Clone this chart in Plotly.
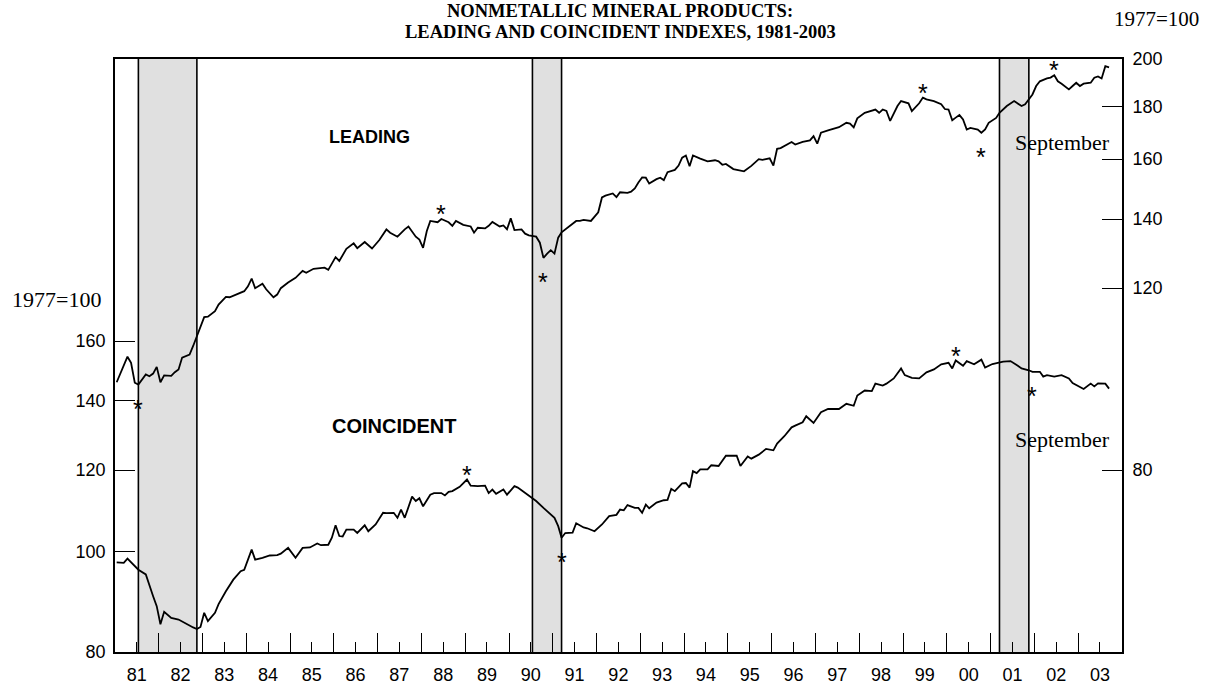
import math
import plotly.graph_objects as go

# ---------------- data ----------------
coin_dates = ["1981-01","1981-03","1981-04","1981-06","1981-07","1981-09","1981-10","1981-11","1981-12",
 "1982-01","1982-02","1982-04","1982-06","1982-08","1982-09","1982-10","1982-11","1982-12",
 "1983-01","1983-02","1983-04","1983-05","1983-07","1983-09","1983-11","1983-12",
 "1984-02","1984-03","1984-05","1984-07","1984-09","1984-10","1984-12",
 "1985-02","1985-04","1985-06","1985-08","1985-09","1985-11","1985-12",
 "1986-01","1986-02","1986-03","1986-04","1986-06","1986-07","1986-09","1986-10","1986-12",
 "1987-02","1987-03","1987-05","1987-06","1987-07","1987-08","1987-10","1987-11","1987-12",
 "1988-01","1988-03","1988-04","1988-06","1988-07","1988-08","1988-09","1988-11",
 "1989-01","1989-02","1989-04","1989-06","1989-07","1989-08","1989-09","1989-11","1989-12",
 "1990-02","1990-03","1990-05","1990-07","1990-08","1990-10","1990-11",
 "1991-01","1991-02","1991-03","1991-04","1991-06","1991-07","1991-09","1991-10","1991-12",
 "1992-02","1992-04","1992-06","1992-07","1992-08","1992-09","1992-11","1992-12",
 "1993-01","1993-02","1993-03","1993-05","1993-07","1993-08","1993-09","1993-10","1993-12",
 "1994-01","1994-02","1994-03","1994-04","1994-05","1994-07","1994-08","1994-10","1994-12",
 "1995-03","1995-04","1995-06","1995-07","1995-09","1995-11",
 "1996-01","1996-02","1996-04","1996-05","1996-06","1996-07","1996-09","1996-10","1996-12",
 "1997-02","1997-04","1997-07","1997-09","1997-11","1997-12",
 "1998-02","1998-04","1998-05","1998-07","1998-08","1998-10","1998-12",
 "1999-01","1999-03","1999-05","1999-07","1999-09","1999-11",
 "2000-01","2000-02","2000-03","2000-05","2000-06","2000-08","2000-10","2000-11",
 "2001-01","2001-04","2001-06","2001-08","2001-09","2001-11","2001-12",
 "2002-02","2002-03","2002-04","2002-06","2002-08","2002-10","2002-11",
 "2003-02","2003-04","2003-05","2003-06","2003-08","2003-09"]
coin_values = [97.7,97.6,98.5,97.0,96.1,95.1,92.6,90.6,88.6,
 85.1,87.5,86.3,86.0,85.2,84.9,84.5,84.2,84.6,
 87.3,85.7,87.3,89.0,91.6,94.0,95.8,96.1,
 100.5,98.3,98.7,99.2,99.3,99.6,100.9,
 98.7,100.9,101.0,101.9,101.5,101.6,103.2,
 106.1,103.6,103.5,105.1,105.1,104.3,106.1,104.7,106.3,
 109.1,109.0,109.1,107.9,109.9,107.9,113.1,112.0,112.7,
 110.7,113.6,114.0,114.0,113.4,114.3,114.5,115.6,
 117.5,115.9,115.8,115.9,114.0,114.9,113.8,114.9,113.6,
 115.8,115.4,114.0,112.8,112.0,110.3,109.5,
 107.9,105.9,103.2,104.3,104.4,106.6,105.6,105.4,104.7,
 106.3,108.3,108.6,109.9,109.7,111.0,110.3,110.3,
 109.1,111.1,110.2,111.6,112.2,112.3,115.1,114.5,116.5,
 116.6,115.4,119.7,119.2,120.2,120.2,121.3,121.1,123.9,
 123.9,121.1,123.7,123.1,124.2,125.8,
 125.4,127.3,129.4,130.8,132.0,132.5,133.5,135.3,133.3,
 136.5,137.5,137.5,139.1,138.5,141.7,
 143.3,143.1,145.5,144.9,145.5,147.2,150.5,
 148.3,147.4,147.2,149.2,150.2,151.9,
 152.4,150.5,153.2,151.4,153.0,151.9,153.5,150.8,
 152.0,152.8,153.0,151.4,150.5,149.9,149.4,
 149.4,147.8,148.3,147.8,148.3,147.2,145.7,
 143.8,145.5,144.6,145.6,145.5,143.9]

lead_dates = ["1981-01","1981-03","1981-04","1981-05","1981-06","1981-07","1981-08","1981-09","1981-10","1981-11","1981-12",
 "1982-01","1982-02","1982-04","1982-05","1982-06","1982-07","1982-09","1982-10","1982-11","1982-12",
 "1983-01","1983-02","1983-04","1983-05","1983-07","1983-08","1983-10","1983-12",
 "1984-01","1984-02","1984-03","1984-05","1984-06","1984-08","1984-09","1984-10","1984-12",
 "1985-02","1985-04","1985-05","1985-07","1985-10","1985-11",
 "1986-01","1986-02","1986-04","1986-06","1986-07","1986-09","1986-11",
 "1987-01","1987-03","1987-04","1987-06","1987-08","1987-09","1987-11","1987-12",
 "1988-01","1988-02","1988-03","1988-05","1988-06","1988-08","1988-09","1988-10","1988-12",
 "1989-02","1989-03","1989-04","1989-06","1989-07","1989-08","1989-10","1989-11","1989-12",
 "1990-01","1990-02","1990-04","1990-05","1990-06","1990-08","1990-09","1990-10","1990-11","1990-12",
 "1991-01","1991-02","1991-03","1991-05","1991-07","1991-08","1991-09","1991-11",
 "1992-01","1992-02","1992-03","1992-05","1992-06","1992-07","1992-09","1992-10","1992-11","1992-12",
 "1993-01","1993-02","1993-03","1993-05","1993-06","1993-07","1993-08","1993-10","1993-11","1993-12",
 "1994-01","1994-02","1994-03","1994-05","1994-07","1994-09","1994-10","1994-11","1994-12",
 "1995-02","1995-04","1995-05","1995-07","1995-09","1995-10","1995-12",
 "1996-01","1996-02","1996-03","1996-05","1996-06","1996-07","1996-09","1996-11","1996-12",
 "1997-01","1997-02","1997-04","1997-05","1997-07","1997-09","1997-10","1997-11","1997-12",
 "1998-02","1998-04","1998-05","1998-06","1998-07","1998-08","1998-09","1998-11","1998-12",
 "1999-02","1999-03","1999-05","1999-06","1999-07","1999-09","1999-11","1999-12",
 "2000-01","2000-02","2000-03","2000-04","2000-05","2000-06","2000-07","2000-09","2000-10","2000-11","2000-12",
 "2001-02","2001-03","2001-05","2001-07","2001-08","2001-09","2001-10","2001-12",
 "2002-01","2002-02","2002-04","2002-05","2002-06","2002-07","2002-08","2002-10","2002-11","2002-12",
 "2003-01","2003-02","2003-04","2003-05","2003-06","2003-07","2003-08","2003-09"]
lead_values = [97.3,101.2,103.0,101.6,97.2,96.8,97.9,99.0,98.6,99.2,100.7,
 97.3,98.8,98.7,99.5,100.1,102.8,103.5,105.5,107.8,110.3,
 112.5,112.6,114.0,115.7,117.7,117.6,118.3,119.2,
 120.5,122.6,120.0,121.2,119.7,117.6,118.3,120.0,121.5,
 122.8,124.7,124.2,125.3,125.6,125.0,
 128.6,127.5,131.0,132.6,131.2,133.0,131.1,
 133.6,136.8,135.8,134.6,136.8,137.7,134.6,133.7,
 131.3,136.3,139.4,139.0,140.0,139.0,137.9,139.4,138.2,
 137.7,135.8,137.3,137.1,137.9,139.1,137.7,138.0,136.8,
 140.2,136.6,136.8,135.5,135.0,134.6,132.8,128.4,129.6,130.6,
 129.6,134.3,135.9,137.7,139.4,139.4,139.7,139.4,
 142.1,146.9,147.5,148.2,147.0,148.6,148.4,148.8,149.9,151.9,
 153.6,153.5,151.5,153.0,153.5,152.7,155.4,156.2,157.7,160.5,
 161.3,157.5,161.3,160.2,159.2,159.6,159.2,158.0,158.3,
 156.5,156.1,155.7,157.6,160.0,159.7,160.3,
 157.7,163.7,164.0,165.3,166.2,165.3,166.3,166.8,168.4,
 165.6,169.7,170.6,170.9,171.8,173.5,173.2,171.7,175.2,
 177.4,178.1,178.7,177.4,178.7,178.1,174.2,180.1,182.1,
 181.2,178.1,181.2,183.5,182.8,182.1,180.8,178.9,
 178.7,174.5,175.5,176.5,174.8,170.9,171.5,170.9,169.7,170.9,173.5,
 175.4,177.4,180.1,182.1,181.2,180.1,180.8,184.8,
 188.3,190.3,191.5,191.9,192.9,190.3,189.3,186.9,188.3,189.7,
 188.3,189.3,189.7,191.8,192.4,191.5,196.8,196.3]

# recession periods (peak month, trough month)
recession_starts = ["1981-07", "1990-07", "2001-03"]
recession_ends = ["1982-11", "1991-03", "2001-11"]

# turning-point stars: date and side of the line
lead_star_dates = ["1981-07", "1988-06", "1990-10", "1999-06", "2000-10", "2002-06"]
lead_star_side = ["below", "above", "below", "above", "below", "above"]
coin_star_dates = ["1989-01", "1991-03", "2000-03", "2001-12"]
coin_star_side = ["above", "below", "above", "below"]

years = list(range(1981, 2004))
year_labels = ["81","82","83","84","85","86","87","88","89","90","91","92",
               "93","94","95","96","97","98","99","00","01","02","03"]
left_ticks = [80, 100, 120, 140, 160]
right_ticks = [80, 120, 140, 160, 180, 200]

# ---------------- figure ----------------
SERIF = "Liberation Serif"
SANS = "Liberation Sans"

def mid(d):
    return d + "-15"

fig = go.Figure()

fig.add_trace(go.Scatter(x=[mid(d) for d in coin_dates], y=coin_values, mode="lines",
                         line=dict(color="black", width=1.8), yaxis="y", showlegend=False,
                         hoverinfo="skip"))
fig.add_trace(go.Scatter(x=[mid(d) for d in lead_dates], y=lead_values, mode="lines",
                         line=dict(color="black", width=1.8), yaxis="y2", showlegend=False,
                         hoverinfo="skip"))

shapes = []
for s, e in zip(recession_starts, recession_ends):
    shapes.append(dict(type="rect", xref="x", yref="paper", x0=mid(s), x1=mid(e), y0=0, y1=1,
                       fillcolor="#e0e0e0", line=dict(width=0), layer="below"))
    for d in (s, e):
        shapes.append(dict(type="line", xref="x", yref="paper", x0=mid(d), x1=mid(d), y0=0, y1=1,
                           line=dict(color="black", width=1.6), layer="below"))

annotations = []
star_font = dict(family=SANS, size=25, color="black")
def add_stars(dates, sides, sdates, svals, yref):
    lookup = dict(zip(sdates, svals))
    for d, side in zip(dates, sides):
        annotations.append(dict(x=mid(d), y=math.log10(lookup[d]), xref="x", yref=yref, text="*",
                                showarrow=False, font=star_font,
                                yshift=(5 if side == "above" else -24)))
add_stars(lead_star_dates, lead_star_side, lead_dates, lead_values, "y2")
add_stars(coin_star_dates, coin_star_side, coin_dates, coin_values, "y")

def txt(text, x, y, font, xanchor="center", yanchor="middle"):
    annotations.append(dict(text=text, x=x, y=y, xref="paper", yref="paper", showarrow=False,
                            font=font, xanchor=xanchor, yanchor=yanchor))

txt("<b>NONMETALLIC MINERAL PRODUCTS:</b>", 0.5015, 1.081, dict(family=SERIF, size=18.5, color="black"))
txt("<b>LEADING AND COINCIDENT INDEXES, 1981-2003</b>", 0.5015, 1.045, dict(family=SERIF, size=18.5, color="black"))
txt("1977=100", -0.058, 0.594, dict(family=SERIF, size=22, color="black"))
txt("1977=100", 1.034, 1.068, dict(family=SERIF, size=21, color="black"))
txt("<b>LEADING</b>", 0.253, 0.869, dict(family=SANS, size=18, color="black"))
txt("<b>COINCIDENT</b>", 0.2775, 0.381, dict(family=SANS, size=20, color="black"))
txt("September", 0.9905, 0.859, dict(family=SERIF, size=22, color="black"), xanchor="right")
txt("September", 0.9905, 0.358, dict(family=SERIF, size=22, color="black"), xanchor="right")

fig.update_layout(
    width=1223, height=687,
    margin=dict(l=115, r=101, t=59, b=35, autoexpand=False),
    paper_bgcolor="white", plot_bgcolor="white",
    shapes=shapes, annotations=annotations,
    showlegend=False,
    xaxis=dict(type="date", range=["1981-01-01", "2004-01-01"], automargin=False,
               tickmode="array", tickvals=[f"{y}-07-01" for y in years], ticktext=year_labels,
               ticks="inside", ticklen=10, tickwidth=1.3, tickcolor="black",
               minor=dict(tickmode="array", tickvals=[f"{y}-01-01" for y in years[1:]],
                          ticks="inside", ticklen=19, tickwidth=1.3, tickcolor="black", showgrid=False),
               showline=True, linecolor="black", linewidth=1.6, mirror=True,
               showgrid=False, zeroline=False, ticklabelstandoff=6,
               tickfont=dict(family=SANS, size=18, color="black")),
    yaxis=dict(type="log", range=[math.log10(80), math.log10(300)], automargin=False,
               tickmode="array", tickvals=left_ticks, ticktext=[str(v) for v in left_ticks],
               ticks="inside", ticklen=20, tickwidth=1.3, tickcolor="black",
               showline=True, linecolor="black", linewidth=1.6,
               showgrid=False, zeroline=False, ticklabelstandoff=4,
               tickfont=dict(family=SANS, size=18, color="black")),
    yaxis2=dict(type="log", range=[math.log10(80 / 1.5), math.log10(200)], automargin=False,
                overlaying="y", side="right",
                tickmode="array", tickvals=right_ticks, ticktext=[str(v) for v in right_ticks],
                ticks="inside", ticklen=20, tickwidth=1.3, tickcolor="black",
                showline=True, linecolor="black", linewidth=1.6,
                showgrid=False, zeroline=False, ticklabelstandoff=5,
                tickfont=dict(family=SANS, size=18, color="black")),
)

fig.write_html("out.html", config={"displayModeBar": False},
               post_script="document.body.style.margin='0px';")
